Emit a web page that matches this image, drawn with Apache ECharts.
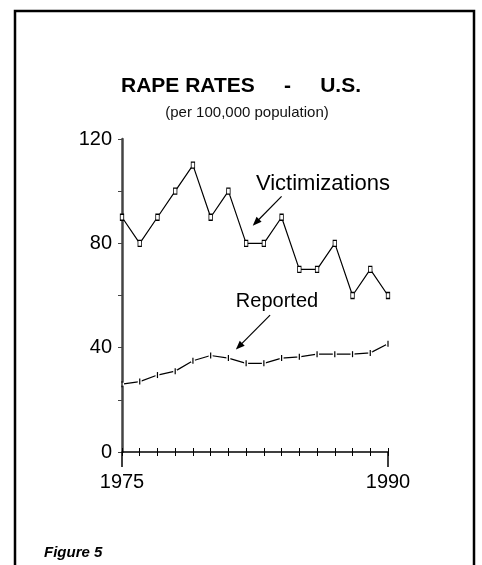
<!DOCTYPE html>
<html>
<head>
<meta charset="utf-8">
<script src="https://cdn.jsdelivr.net/npm/echarts@6/dist/echarts.min.js"></script>
<style>
  html, body { margin: 0; padding: 0; background: #fff; }
  #chart { width: 482px; height: 565px; }
</style>
</head>
<body>
<div id="chart"></div>
<script>
// data (rate per 100,000)
const years = [1975, 1976, 1977, 1978, 1979, 1980, 1981, 1982, 1983, 1984, 1985, 1986, 1987, 1988, 1989, 1990];
const victimizations = [90, 80, 90, 100, 110, 90, 100, 80, 80, 90, 70, 70, 80, 60, 70, 60];
const reported = [26, 27, 29.5, 31, 35, 37, 36, 34, 34, 36, 36.5, 37.5, 37.5, 37.5, 38, 41.5];
const yTickLabels = [0, 40, 80, 120];
const xTickLabels = [1975, 1990];

const FONT = '"Liberation Sans", Arial, sans-serif';
const chart = echarts.init(document.getElementById('chart'));

const pairs = (vals) => years.map((y, i) => [y, vals[i]]);
const gridBox = { left: 122, right: 94, top: 139, bottom: 113 };

// three identical grids: ticks above the axis, ticks below, and long end ticks + labels
const xBase = { type: 'value', min: 1975, max: 1990, splitLine: { show: false } };
const yHidden = (g) => ({ type: 'value', gridIndex: g, min: 0, max: 120, show: false });

const option = {
  animation: false,
  backgroundColor: '#fff',
  grid: [gridBox, gridBox, gridBox],
  xAxis: [
    {
      ...xBase, gridIndex: 0, interval: 1,
      axisLine: { lineStyle: { color: '#000', width: 1.5 } },
      axisTick: { inside: true, length: 4, lineStyle: { color: '#000', width: 1 } },
      axisLabel: { show: false }
    },
    {
      ...xBase, gridIndex: 1, interval: 1,
      axisLine: { show: false },
      axisTick: { length: 4, lineStyle: { color: '#000', width: 1 } },
      axisLabel: { show: false }
    },
    {
      ...xBase, gridIndex: 2, interval: 15,
      axisLine: { show: false },
      axisTick: { length: 15, lineStyle: { color: '#000', width: 1.5 } },
      axisLabel: {
        margin: 20, fontSize: 20, color: '#000', fontFamily: FONT,
        formatter: (v) => xTickLabels.includes(v) ? String(v) : ''
      }
    }
  ],
  yAxis: [
    {
      type: 'value', gridIndex: 0, min: 0, max: 120, interval: 20,
      splitLine: { show: false },
      axisLine: { show: true, lineStyle: { color: '#444', width: 2.5 } },
      axisTick: { length: 4, lineStyle: { color: '#444', width: 1 } },
      axisLabel: {
        margin: 10, fontSize: 20, color: '#000', fontFamily: FONT,
        formatter: (v) => yTickLabels.includes(v) ? String(v) : ''
      }
    },
    yHidden(1),
    yHidden(2)
  ],
  series: [
    {
      name: 'Victimizations',
      type: 'line',
      data: pairs(victimizations),
      symbol: 'rect',
      symbolSize: [3.5, 6],
      itemStyle: { color: '#fff', borderColor: '#000', borderWidth: 1 },
      lineStyle: { color: '#000', width: 1.2 },
      z: 3,
      markLine: {
        silent: true,
        symbol: ['none', 'triangle'],
        symbolSize: [7, 9],
        label: { show: false },
        lineStyle: { color: '#000', width: 1.2, type: 'solid' },
        data: [[{ coord: [1984, 98] }, { coord: [1982.55, 88] }]]
      }
    },
    {
      name: 'Reported',
      type: 'line',
      data: pairs(reported),
      symbol: 'rect',
      symbolSize: [4, 3],
      itemStyle: { color: '#fff' },
      lineStyle: { color: '#000', width: 1.2 },
      z: 3,
      markLine: {
        silent: true,
        symbol: ['none', 'triangle'],
        symbolSize: [7, 9],
        label: { show: false },
        lineStyle: { color: '#000', width: 1.2, type: 'solid' },
        data: [[{ coord: [1983.35, 52.5] }, { coord: [1981.6, 40.5] }]]
      }
    },
    {
      name: 'Reported ticks',
      type: 'line',
      data: pairs(reported),
      symbol: 'rect',
      symbolSize: [1.2, 6],
      itemStyle: { color: '#000' },
      lineStyle: { width: 0, opacity: 0 },
      z: 4
    }
  ],
  graphic: [
    {
      type: 'polyline',
      shape: { points: [[15, 565], [15, 11], [474, 11], [474, 565]] },
      style: { stroke: '#000', lineWidth: 2.5, fill: null }
    },
    {
      type: 'text', x: 241, y: 86,
      style: { text: 'RAPE RATES     -     U.S.', font: 'bold 21px ' + FONT, fill: '#000',
        align: 'center', verticalAlign: 'middle', textAlign: 'center', textVerticalAlign: 'middle' }
    },
    {
      type: 'text', x: 247, y: 113,
      style: { text: '(per 100,000 population)', font: '15px ' + FONT, fill: '#111',
        align: 'center', verticalAlign: 'middle', textAlign: 'center', textVerticalAlign: 'middle' }
    },
    {
      type: 'text', x: 323, y: 184,
      style: { text: 'Victimizations', font: '22px ' + FONT, fill: '#000',
        align: 'center', verticalAlign: 'middle', textAlign: 'center', textVerticalAlign: 'middle' }
    },
    {
      type: 'text', x: 277, y: 301,
      style: { text: 'Reported', font: '20px ' + FONT, fill: '#000',
        align: 'center', verticalAlign: 'middle', textAlign: 'center', textVerticalAlign: 'middle' }
    },
    {
      type: 'text', x: 44, y: 553,
      style: { text: 'Figure 5', font: 'italic bold 15px ' + FONT, fill: '#000',
        align: 'left', verticalAlign: 'middle', textAlign: 'left', textVerticalAlign: 'middle' }
    }
  ]
};

chart.setOption(option);
</script>
</body>
</html>
